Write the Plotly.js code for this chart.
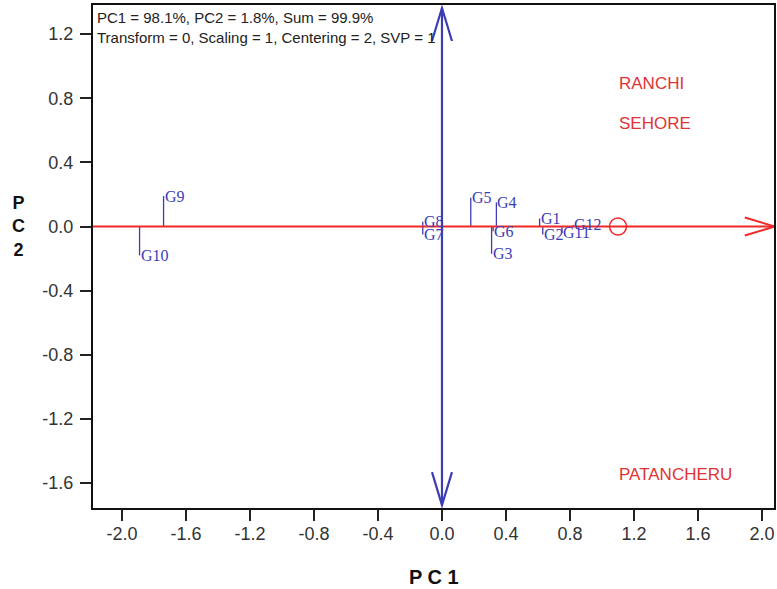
<!DOCTYPE html>
<html>
<head>
<meta charset="utf-8">
<script src="https://cdn.plot.ly/plotly-3.0.1.min.js"></script>
<style>html,body{margin:0;padding:0;background:#fff;}#chart{width:777px;height:589px;}</style>
</head>
<body>
<div id="chart"></div>
<script>
// Genotype scores (PC1, PC2)
const genotypes = ['G1','G2','G3','G4','G5','G6','G7','G8','G9','G10','G11','G12'];
const pc1 = [0.61, 0.63, 0.31, 0.34, 0.18, 0.32, -0.12, -0.12, -1.74, -1.89, 0.75, 0.82];
const pc2 = [0.05, -0.05, -0.17, 0.15, 0.18, -0.03, -0.05, 0.03, 0.19, -0.18, -0.04, 0.01];
// Average environment point
const aecX = [1.1];
const aecY = [0.0];
// Environment labels
const envNames = ['RANCHI', 'SEHORE', 'PATANCHERU'];
const envX = [1.1, 1.1, 1.1];
const envY = [0.89, 0.645, -1.545];
// Axis ticks
const tickVals = [-2.0, -1.6, -1.2, -0.8, -0.4, 0.0, 0.4, 0.8, 1.2, 1.6, 2.0];
const yTickVals = [-1.6, -1.2, -0.8, -0.4, 0.0, 0.4, 0.8, 1.2];
const headerLines = ['PC1 = 98.1%, PC2 = 1.8%, Sum = 99.9%', 'Transform = 0, Scaling = 1, Centering = 2, SVP = 1'];

const BLUE = 'rgb(60,60,180)';
const RED = 'rgb(240,40,40)';
const ENVRED = 'rgb(222,52,52)';

// leader lines (projection onto the AEC abscissa)
const lx = [], ly = [];
genotypes.forEach((g, i) => { lx.push(pc1[i], pc1[i], null); ly.push(0, pc2[i], null); });

const traces = [
  { x: lx, y: ly, mode: 'lines', line: { color: BLUE, width: 1.3 }, hoverinfo: 'skip', showlegend: false },
  { x: aecX, y: aecY, mode: 'markers', marker: { symbol: 'circle-open', size: 17, color: RED, line: { width: 1.5, color: RED } }, showlegend: false }
];

const annotations = [];
genotypes.forEach((g, i) => {
  annotations.push({ x: pc1[i], y: pc2[i], xref: 'x', yref: 'y', text: g, showarrow: false,
    xanchor: 'left', yanchor: 'middle', borderpad: 0,
    font: { family: 'Liberation Serif, Times New Roman, serif', size: 16, color: BLUE } });
});
envNames.forEach((n, i) => {
  annotations.push({ x: envX[i], y: envY[i], xref: 'x', yref: 'y', text: n, showarrow: false,
    xanchor: 'left', yanchor: 'middle', borderpad: 0,
    font: { family: 'Liberation Sans, Arial, sans-serif', size: 17, color: ENVRED } });
});
headerLines.forEach((t, i) => {
  annotations.push({ x: 0.004, y: 0.976 - i * 0.04, xref: 'paper', yref: 'paper', text: t, showarrow: false,
    xanchor: 'left', yanchor: 'middle', borderpad: 0,
    font: { family: 'Liberation Sans, Arial, sans-serif', size: 15, color: '#222' } });
});
annotations.push({ x: 0.5, y: -0.137, xref: 'paper', yref: 'paper', text: '<b>P C 1</b>', showarrow: false,
  xanchor: 'center', yanchor: 'middle', font: { family: 'Liberation Sans, Arial, sans-serif', size: 20, color: '#111' } });
annotations.push({ x: -0.110, y: 0.56, xref: 'paper', yref: 'paper', text: '<b>P<br>C<br>2</b>', showarrow: false,
  xanchor: 'center', yanchor: 'middle', font: { family: 'Liberation Sans, Arial, sans-serif', size: 18, color: '#111' } });

const shapes = [
  // AEC abscissa (red) and ordinate (blue)
  { type: 'line', xref: 'x', yref: 'y', x0: -2.181, x1: 2.08, y0: 0, y1: 0, line: { color: RED, width: 2 } },
  { type: 'line', xref: 'x', yref: 'y', x0: 0, x1: 0, y0: -1.737, y1: 1.362, line: { color: BLUE, width: 2.2 } },
  // arrow heads
  { type: 'path', xref: 'x', yref: 'y', xsizemode: 'pixel', ysizemode: 'pixel', xanchor: 0, yanchor: 1.362,
    path: 'M-10,-33 L0,0 L10,-33', line: { color: BLUE, width: 2.2 } },
  { type: 'path', xref: 'x', yref: 'y', xsizemode: 'pixel', ysizemode: 'pixel', xanchor: 0, yanchor: -1.737,
    path: 'M-10,33 L0,0 L10,33', line: { color: BLUE, width: 2.2 } },
  { type: 'path', xref: 'x', yref: 'y', xsizemode: 'pixel', ysizemode: 'pixel', xanchor: 2.08, yanchor: 0,
    path: 'M-30,9 L0,0 L-30,-9', line: { color: RED, width: 2 } }
];

const axisCommon = {
  showgrid: false, zeroline: false, showline: true, linecolor: '#111', linewidth: 2, mirror: true,
  ticks: 'outside', ticklen: 11, tickwidth: 2, tickcolor: '#222',
  tickfont: { family: 'Liberation Sans, Arial, sans-serif', size: 18, color: '#333' }
};

const layout = {
  width: 777, height: 589,
  margin: { l: 93, r: 3, t: 5, b: 81 },
  paper_bgcolor: '#fff', plot_bgcolor: '#fff',
  showlegend: false,
  xaxis: Object.assign({}, axisCommon, { range: [-2.181, 2.075], tickvals: tickVals, ticktext: tickVals.map(v => v.toFixed(1)), ticklabelstandoff: -3 }),
  yaxis: Object.assign({}, axisCommon, { range: [-1.755, 1.381], tickvals: yTickVals, ticktext: yTickVals.map(v => v.toFixed(1)), ticklabelstandoff: 3 }),
  shapes: shapes,
  annotations: annotations
};

Plotly.newPlot('chart', traces, layout, { displayModeBar: false, staticPlot: true });
</script>
</body>
</html>
